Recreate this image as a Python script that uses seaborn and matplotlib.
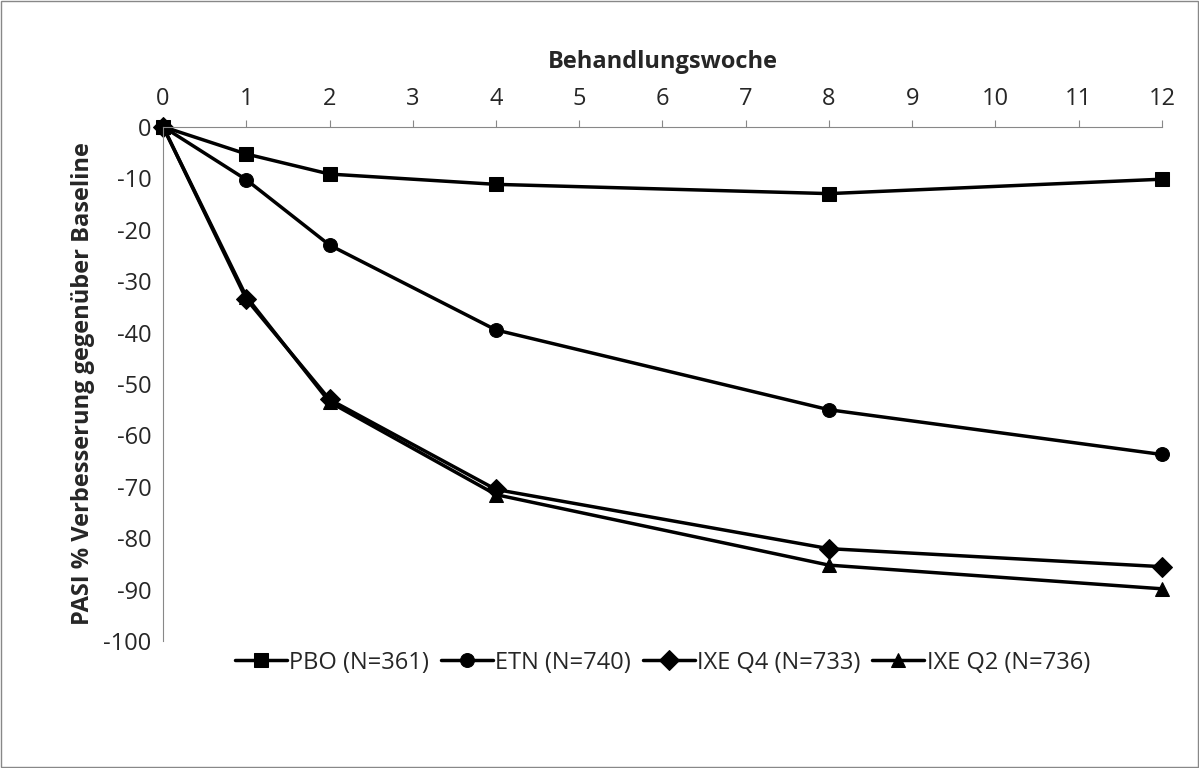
import matplotlib
matplotlib.use("Agg")
import matplotlib.pyplot as plt
import seaborn as sns
import pandas as pd

weeks = [0, 1, 2, 4, 8, 12]
pbo = [0, -5.3, -9.2, -11.2, -13.0, -10.2]
etn = [0, -10.3, -23.0, -39.5, -55.0, -63.7]
ixe_q4 = [0, -33.5, -53.0, -70.5, -82.0, -85.5]
ixe_q2 = [0, -33.0, -53.5, -71.5, -85.2, -89.8]
series_names = ["PBO (N=361)", "ETN (N=740)", "IXE Q4 (N=733)", "IXE Q2 (N=736)"]
markers = ["s", "o", "D", "^"]

rows = []
for name, vals in zip(series_names, [pbo, etn, ixe_q4, ixe_q2]):
    for w, v in zip(weeks, vals):
        rows.append({"week": w, "value": v, "series": name})
df = pd.DataFrame(rows)

sns.set_style("white")
plt.rcParams["font.family"] = ["Open Sans", "DejaVu Sans"]
plt.rcParams["axes.unicode_minus"] = False

fig = plt.figure(figsize=(11.99, 7.68), dpi=100)
ax = fig.add_axes([0.136, 0.165, 0.833, 0.670])
sns.lineplot(data=df, x="week", y="value", hue="series", style="series",
             palette=["black"] * 4, markers=markers, dashes=False,
             markersize=10, linewidth=2.5, markeredgecolor="black", ax=ax, legend=True)

ax.set_xlim(0, 12)
ax.set_ylim(-100, 0)
ax.set_xticks(range(0, 13))
ax.set_yticks(range(-100, 1, 10))
ax.xaxis.tick_top()
ax.xaxis.set_label_position("top")
ax.set_xlabel("Behandlungswoche", fontsize=17, fontweight="bold", labelpad=14)
ax.set_ylabel("PASI % Verbesserung gegenüber Baseline", fontsize=17, fontweight="bold", labelpad=6)
ax.tick_params(axis="both", labelsize=17, direction="out", length=5, color="#888888")
ax.tick_params(axis="x", pad=6)
for s in ["right", "bottom"]:
    ax.spines[s].set_visible(False)
for s in ["left", "top"]:
    ax.spines[s].set_color("#888888")
for line in ax.lines:
    line.set_clip_on(False)

handles, labels = ax.get_legend_handles_labels()
ax.legend(handles, labels, loc="upper center", bbox_to_anchor=(0.5, 0.0), ncol=4,
          frameon=False, fontsize=17, handlelength=2.2, handletextpad=0.1, columnspacing=0.5,
          borderaxespad=0.0)

fig.patches.append(plt.Rectangle((0.001, 0.001), 0.998, 0.998, transform=fig.transFigure,
                                 fill=False, edgecolor="#888888", linewidth=1))
fig.savefig("out.png", dpi=100)
